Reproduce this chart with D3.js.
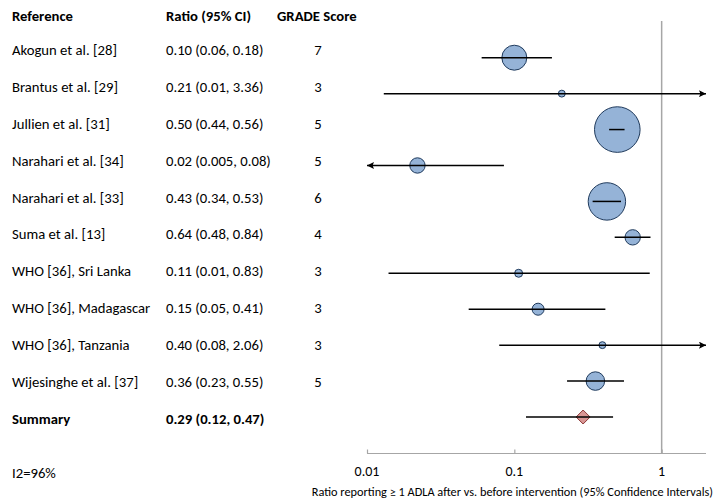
<!DOCTYPE html>
<html>
<head>
<meta charset="utf-8">
<script src="https://cdn.jsdelivr.net/npm/d3@7"></script>
<style>
  body { margin: 0; background: #fff; }
  text { font-family: Carlito, Calibri, Lato, sans-serif; fill: #000; }
</style>
</head>
<body>
<div id="chart"></div>
<script>
// study rows
var studies = ["Akogun et al. [28]", "Brantus et al. [29]", "Jullien et al. [31]",
  "Narahari et al. [34]", "Narahari et al. [33]", "Suma et al. [13]",
  "WHO [36], Sri Lanka", "WHO [36], Madagascar", "WHO [36], Tanzania",
  "Wijesinghe et al. [37]", "Summary"];
var ratioLabels = ["0.10 (0.06, 0.18)", "0.21 (0.01, 3.36)", "0.50 (0.44, 0.56)",
  "0.02 (0.005, 0.08)", "0.43 (0.34, 0.53)", "0.64 (0.48, 0.84)",
  "0.11 (0.01, 0.83)", "0.15 (0.05, 0.41)", "0.40 (0.08, 2.06)",
  "0.36 (0.23, 0.55)", "0.29 (0.12, 0.47)"];
var grades = ["7", "3", "5", "5", "6", "4", "3", "3", "3", "5", ""];

// plotted values (as drawn)
var est = [0.10, 0.21, 0.50, 0.022, 0.425, 0.636, 0.107, 0.145, 0.396, 0.355, 0.293];
var lo  = [0.06, 0.013, 0.44, 0.005, 0.34, 0.48, 0.014, 0.049, 0.079, 0.228, 0.12];
var hi  = [0.18, 3.36, 0.56, 0.085, 0.53, 0.84, 0.83, 0.415, 2.06, 0.555, 0.468];
var weights = [156, 12, 520, 59, 350, 59, 16, 36, 12, 86, 0];

var ticks = [0.01, 0.1, 1];

var width = 716, height = 500;

var svg = d3.select("#chart").append("svg")
    .attr("width", width)
    .attr("height", height);

var x = d3.scaleLog().domain([0.01, 2]).range([367, 706]);
var yText = d3.scalePoint().domain(studies).range([50, 418.5]);
var yMark = d3.scalePoint().domain(studies).range([57.7, 417]);
var r = d3.scaleSqrt().domain([0, 520]).range([0, 22.8]);

// arrow heads
var defs = svg.append("defs");
defs.append("marker")
    .attr("id", "arrow")
    .attr("viewBox", "0 0 10 10")
    .attr("refX", 10).attr("refY", 5)
    .attr("markerWidth", 9).attr("markerHeight", 7)
    .attr("markerUnits", "userSpaceOnUse")
    .attr("orient", "auto-start-reverse")
  .append("path")
    .attr("d", "M0,0L10,5L0,10L2,5Z")
    .attr("fill", "#000");

// headers
var header = svg.append("g").style("font-weight", "bold").style("font-size", "14.7px");
header.append("text").attr("x", 12).attr("y", 16).attr("dy", "0.35em").text("Reference");
header.append("text").attr("x", 166).attr("y", 16).attr("dy", "0.35em").text("Ratio (95% CI)");
header.append("text").attr("x", 277).attr("y", 16).attr("dy", "0.35em").text("GRADE Score");

// table columns
var rows = svg.append("g").style("font-size", "14.7px")
  .selectAll("g")
  .data(studies)
  .enter().append("g")
    .attr("transform", function(d) { return "translate(0," + yText(d) + ")"; })
    .style("font-weight", function(d) { return d == "Summary" ? "bold" : null; });

rows.append("text").attr("x", 12).attr("dy", "0.35em").text(function(d) { return d; });
rows.append("text").attr("x", 166).attr("dy", "0.35em").text(function(d, i) { return ratioLabels[i]; });
rows.append("text").attr("x", 318).attr("dy", "0.35em").attr("text-anchor", "middle")
    .text(function(d, i) { return grades[i]; });

// reference line at 1
svg.append("line")
    .attr("x1", x(1)).attr("x2", x(1))
    .attr("y1", 21).attr("y2", 453)
    .attr("stroke", "#a6a6a6").attr("stroke-width", 1.5);

// axis
var axis = svg.append("g")
    .attr("transform", "translate(0,453.5)")
    .call(d3.axisTop(x).tickValues(ticks).tickSize(4).tickFormat(d3.format("")));
axis.select(".domain").remove();
axis.selectAll(".tick text").remove();
axis.selectAll(".tick line").attr("stroke", "#a6a6a6").attr("stroke-width", 1.2);
axis.append("line").attr("x1", x(0.01)).attr("x2", x(2))
    .attr("stroke", "#a6a6a6").attr("stroke-width", 1.2);

svg.append("g").style("font-size", "14px")
  .selectAll("text")
  .data(ticks)
  .enter().append("text")
    .attr("x", function(d) { return x(d); })
    .attr("y", 471)
    .attr("dy", "0.35em")
    .attr("text-anchor", "middle")
    .text(function(d) { return d; });

svg.append("text")
    .attr("x", 713).attr("y", 492).attr("dy", "0.35em")
    .attr("text-anchor", "end")
    .style("font-size", "12.3px")
    .text("Ratio reporting \u2265 1 ADLA after vs. before intervention (95% Confidence Intervals)");

svg.append("text")
    .attr("x", 12).attr("y", 473).attr("dy", "0.35em")
    .style("font-size", "14.7px")
    .text("I2=96%");

// markers
var dom = x.domain();
var marks = svg.append("g").selectAll("g")
  .data(studies)
  .enter().append("g")
    .attr("transform", function(d) { return "translate(0," + yMark(d) + ")"; });

marks.each(function(d, i) {
  var g = d3.select(this);
  if (d == "Summary") {
    var s = 7;
    g.append("path")
        .attr("d", "M" + (x(est[i]) - s) + ",0L" + x(est[i]) + "," + (-s) + "L" + (x(est[i]) + s) + ",0L" + x(est[i]) + "," + s + "Z")
        .attr("fill", "#d99694").attr("stroke", "#8c3836").attr("stroke-width", 1);
  } else {
    g.append("circle")
        .attr("cx", x(est[i]))
        .attr("r", r(weights[i]))
        .attr("fill", "#95b3d7").attr("stroke", "#1f3a5c").attr("stroke-width", 1);
  }
  var a = Math.max(lo[i], dom[0]), b = Math.min(hi[i], dom[1]);
  g.append("line")
      .attr("x1", x(a)).attr("x2", x(b))
      .attr("stroke", "#000").attr("stroke-width", 1.5)
      .attr("marker-start", lo[i] < dom[0] ? "url(#arrow)" : null)
      .attr("marker-end", hi[i] > dom[1] ? "url(#arrow)" : null);
});
</script>
</body>
</html>
